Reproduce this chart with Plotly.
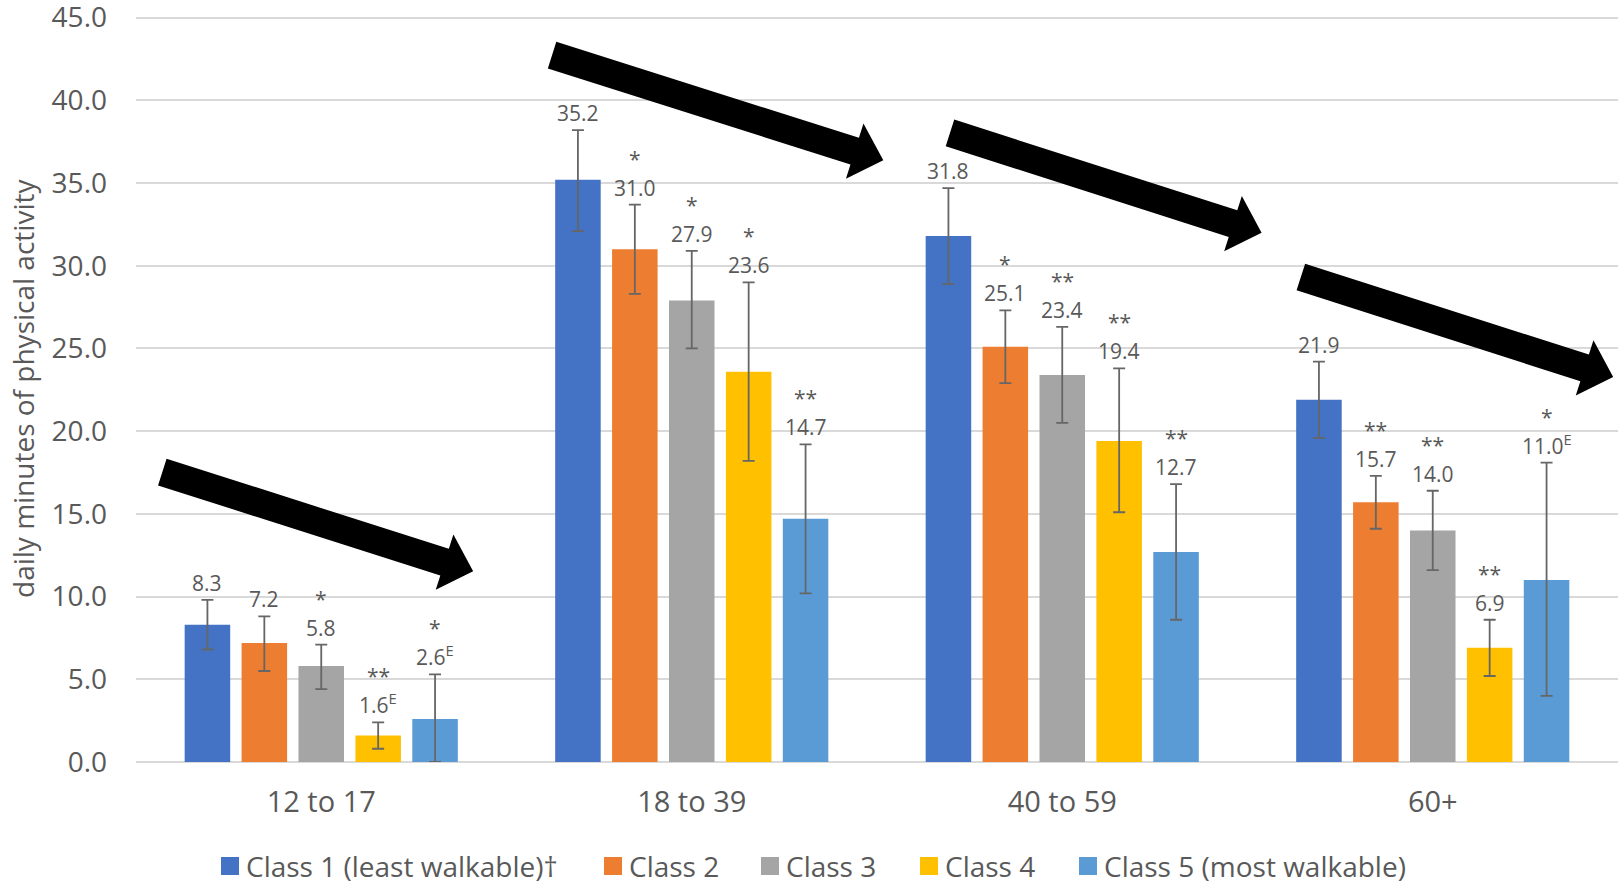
import math
import plotly.graph_objects as go

# ---- data -------------------------------------------------------------
age_groups = ["12 to 17", "18 to 39", "40 to 59", "60+"]
class_names = ["Class 1 (least walkable)\u2020", "Class 2", "Class 3", "Class 4",
               "Class 5 (most walkable)"]

class1_mean = [8.3, 35.2, 31.8, 21.9]
class1_upper = [9.8, 38.2, 34.7, 24.2]
class1_lower = [6.8, 32.1, 28.9, 19.6]
class1_sig = ["", "", "", ""]
class1_flag_e = [False, False, False, False]

class2_mean = [7.2, 31.0, 25.1, 15.7]
class2_upper = [8.8, 33.7, 27.3, 17.3]
class2_lower = [5.5, 28.3, 22.9, 14.1]
class2_sig = ["", "*", "*", "**"]
class2_flag_e = [False, False, False, False]

class3_mean = [5.8, 27.9, 23.4, 14.0]
class3_upper = [7.1, 30.9, 26.3, 16.4]
class3_lower = [4.4, 25.0, 20.5, 11.6]
class3_sig = ["*", "*", "**", "**"]
class3_flag_e = [False, False, False, False]

class4_mean = [1.6, 23.6, 19.4, 6.9]
class4_upper = [2.4, 29.0, 23.8, 8.6]
class4_lower = [0.8, 18.2, 15.1, 5.2]
class4_sig = ["**", "*", "**", "**"]
class4_flag_e = [True, False, False, False]

class5_mean = [2.6, 14.7, 12.7, 11.0]
class5_upper = [5.3, 19.2, 16.8, 18.1]
class5_lower = [0.0, 10.2, 8.6, 4.0]
class5_sig = ["*", "**", "**", "*"]
class5_flag_e = [True, False, False, True]

y_ticks = [0, 5, 10, 15, 20, 25, 30, 35, 40, 45]

# ---- styling ----------------------------------------------------------
colors = ["#4472C4", "#ED7D31", "#A5A5A5", "#FFC000", "#5B9BD5"]
text_color = "#595959"
grid_color = "#D9D9D9"
font_family = "Open Sans, Noto Sans, sans-serif"

W, H = 1624, 886
M_L, M_R, M_T, M_B = 136, 6, 16, 124
PW, PH = W - M_L - M_R, H - M_T - M_B
Y_MAX = 45.1
BARGAP, BARGROUPGAP = 0.232, 0.2

series = [
    (class1_mean, class1_upper, class1_lower, class1_sig, class1_flag_e),
    (class2_mean, class2_upper, class2_lower, class2_sig, class2_flag_e),
    (class3_mean, class3_upper, class3_lower, class3_sig, class3_flag_e),
    (class4_mean, class4_upper, class4_lower, class4_sig, class4_flag_e),
    (class5_mean, class5_upper, class5_lower, class5_sig, class5_flag_e),
]

fig = go.Figure()
for name, color, (mean, upper, lower, sig, flag_e) in zip(class_names, colors, series):
    fig.add_trace(go.Bar(
        x=age_groups, y=mean, name=name, marker_color=color,
        marker_line_width=0, showlegend=False,
        error_y=dict(type="data", symmetric=False,
                     array=[u - m for u, m in zip(upper, mean)],
                     arrayminus=[m - l for m, l in zip(mean, lower)],
                     color="#666666", thickness=1.8, width=6),
    ))

# value labels and significance markers above each error bar
cat_w = PW / len(age_groups)
pitch = cat_w * (1 - BARGAP) / len(series)
label_font = dict(family=font_family, size=21, color=text_color)
annotations = []
for j, (mean, upper, lower, sig, flag_e) in enumerate(series):
    dx = (j - (len(series) - 1) / 2) * pitch
    for i, cat in enumerate(age_groups):
        txt = f"{mean[i]:.1f}" + ("<sup>E</sup>" if flag_e[i] else "")
        annotations.append(dict(x=cat, y=upper[i], xref="x", yref="y", text=txt,
                                showarrow=False, xanchor="center", yanchor="bottom",
                                xshift=dx, yshift=1, font=label_font))
        if sig[i]:
            annotations.append(dict(x=cat, y=upper[i], xref="x", yref="y", text=sig[i],
                                    showarrow=False, xanchor="center", yanchor="bottom",
                                    xshift=dx, yshift=30, font=label_font))

# y-axis title
annotations.append(dict(x=(23 - M_L) / PW, y=0.5, xref="paper", yref="paper",
                        text="daily minutes of physical activity", textangle=-90,
                        showarrow=False, xanchor="center", yanchor="middle",
                        font=dict(family=font_family, size=28, color=text_color)))

# ---- trend arrows (category index, minutes) ---------------------------
trend_arrows = [
    ((-0.429, 17.53), (0.410, 11.53)),
    ((0.623, 42.73), (1.517, 36.38)),
    ((1.697, 38.03), (2.538, 32.00)),
    ((2.644, 29.32), (3.487, 23.27)),
]
SHAFT_HALF, HEAD_HALF, HEAD_LEN = 14, 29, 30


def to_px(idx, val):
    return M_L + (idx + 0.5) * cat_w, M_T + (Y_MAX - val) / Y_MAX * PH


def to_paper(px, py):
    return (px - M_L) / PW, (M_T + PH - py) / PH


shapes = []
for tail, tip in trend_arrows:
    tx, ty = to_px(*tail)
    hx, hy = to_px(*tip)
    L = math.hypot(hx - tx, hy - ty)
    ux, uy = (hx - tx) / L, (hy - ty) / L
    nx, ny = uy, -ux
    bx, by = hx - ux * HEAD_LEN, hy - uy * HEAD_LEN
    pts = [
        (tx + nx * SHAFT_HALF, ty + ny * SHAFT_HALF),
        (bx + nx * SHAFT_HALF, by + ny * SHAFT_HALF),
        (bx + nx * HEAD_HALF, by + ny * HEAD_HALF),
        (hx, hy),
        (bx - nx * HEAD_HALF, by - ny * HEAD_HALF),
        (bx - nx * SHAFT_HALF, by - ny * SHAFT_HALF),
        (tx - nx * SHAFT_HALF, ty - ny * SHAFT_HALF),
    ]
    pp = [to_paper(*p) for p in pts]
    path = "M " + " L ".join(f"{x:.5f},{y:.5f}" for x, y in pp) + " Z"
    shapes.append(dict(type="path", path=path, xref="paper", yref="paper",
                       fillcolor="black", line=dict(width=0), layer="above"))

# ---- legend drawn along the bottom -------------------------------------
legend_left_px = [221, 604, 761, 920, 1079]
LEG_Y_PX, SWATCH = 866, 18
for name, color, lx in zip(class_names, colors, legend_left_px):
    x0, y0 = to_paper(lx, LEG_Y_PX + SWATCH / 2)
    x1, y1 = to_paper(lx + SWATCH, LEG_Y_PX - SWATCH / 2)
    shapes.append(dict(type="rect", xref="paper", yref="paper", x0=x0, x1=x1,
                       y0=y0, y1=y1, fillcolor=color, line=dict(width=0)))
    tx, ty = to_paper(lx + SWATCH + 5, LEG_Y_PX)
    annotations.append(dict(x=tx, y=ty, xref="paper", yref="paper", text=name,
                            showarrow=False, xanchor="left", yanchor="middle",
                            font=dict(family=font_family, size=28, color=text_color)))

fig.update_layout(
    width=W, height=H, autosize=False,
    margin=dict(l=M_L, r=M_R, t=M_T, b=M_B, pad=0),
    paper_bgcolor="white", plot_bgcolor="white",
    barmode="group", bargap=BARGAP, bargroupgap=BARGROUPGAP,
    showlegend=False,
    font=dict(family=font_family, color=text_color),
    annotations=annotations, shapes=shapes,
)
fig.update_xaxes(type="category", showgrid=False, showline=False, zeroline=False,
                 ticks="", tickfont=dict(size=29, color=text_color),
                 ticklabelstandoff=20, automargin=False)
fig.update_yaxes(range=[0, Y_MAX], tickvals=y_ticks, tickformat=".1f",
                 showgrid=True, gridcolor=grid_color, gridwidth=1.5,
                 zeroline=True, zerolinecolor=grid_color, zerolinewidth=1.5,
                 showline=False, ticks="", tickfont=dict(size=28, color=text_color),
                 ticklabelstandoff=28, ticklabeloverflow="allow", automargin=False)

fig.write_html("out.html")
